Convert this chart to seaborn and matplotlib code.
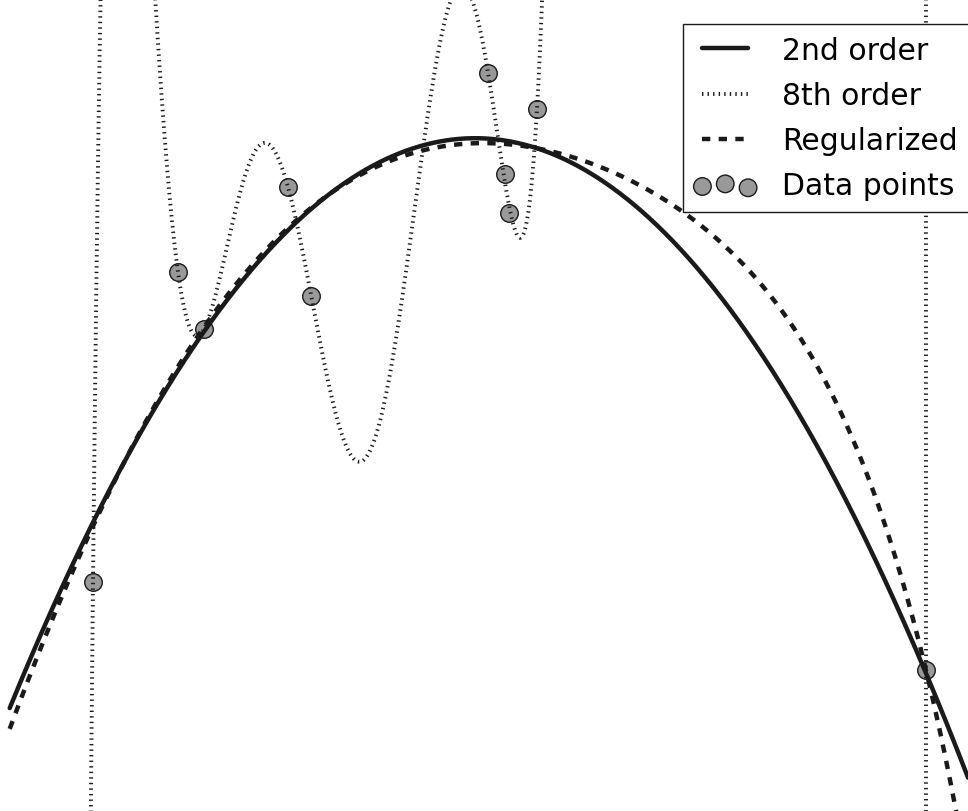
import numpy as np
import pandas as pd
import matplotlib
matplotlib.use("Agg")
import matplotlib.pyplot as plt
from matplotlib.collections import PathCollection
from matplotlib.legend_handler import HandlerLine2D, HandlerPathCollection
from matplotlib.lines import Line2D
import seaborn as sns

# observed samples
x_pts = [0.0, 0.102, 0.133, 0.234, 0.262, 0.474, 0.495, 0.499, 0.533, 1.0]
y_pts = [0.209, 0.763, 0.660, 0.914, 0.720, 1.118, 0.937, 0.868, 1.053, 0.051]

labels = ["2nd order", "8th order", "Regularized", "Data points"]
ridge_alpha = 3e-4

sns.set_theme(style="white")
plt.rcParams["lines.scale_dashes"] = False
plt.rcParams["text.color"] = "black"

x = np.array(x_pts)
y = np.array(y_pts)
xfit = np.linspace(-0.1, 1.1, 4000)

# least-squares polynomial fits
p2 = np.polyfit(x, y, 2)
p8 = np.polyfit(x, y, 8)


def ridge_poly(deg, alpha):
    """Degree-`deg` polynomial fit with an L2 penalty on non-constant terms."""
    X = np.vander(x, deg + 1)
    D = np.eye(deg + 1)
    D[-1, -1] = 0
    return np.linalg.solve(X.T @ X + alpha * D, X.T @ y)


preg = ridge_poly(8, ridge_alpha)

fits = pd.DataFrame({
    "x": xfit,
    "quad": np.polyval(p2, xfit),
    "oct": np.polyval(p8, xfit),
    "reg": np.polyval(preg, xfit),
})
pts = pd.DataFrame({"x": x, "y": y})

fig = plt.figure(figsize=(9.68, 8.12), dpi=100)
ax = fig.add_axes([0, 0, 1, 1])

sns.scatterplot(data=pts, x="x", y="y", ax=ax, s=160, color="0.6",
                edgecolor="k", linewidth=1, zorder=1, label=labels[3])
sns.lineplot(data=fits, x="x", y="quad", ax=ax, color="k", lw=3.2,
             sort=False, estimator=None, zorder=2, label=labels[0])
sns.lineplot(data=fits, x="x", y="oct", ax=ax, color="k", lw=2.8,
             linestyle=(0, (1, 3)), sort=False, estimator=None, zorder=3,
             label=labels[1])
sns.lineplot(data=fits, x="x", y="reg", ax=ax, color="k", lw=3.2,
             linestyle=(0, (6, 6)), sort=False, estimator=None, zorder=2,
             label=labels[2])

ax.set_xlim(-93 / 833, 875 / 833)
ax.set_ylim(-0.2, 1.25)
ax.set_axis_off()

handles, labs = ax.get_legend_handles_labels()
lookup = dict(zip(labs, handles))
leg = ax.legend([lookup[l] for l in labels], labels, loc="upper left",
                bbox_to_anchor=(683 / 968, 1 - 25 / 812),
                bbox_transform=fig.transFigure, borderaxespad=0,
                fancybox=False, framealpha=1, edgecolor="k", fontsize=21.5,
                scatterpoints=3, handlelength=1.78, handletextpad=1.13,
                labelspacing=0.54, borderpad=0.4,
                handler_map={
                    Line2D: HandlerLine2D(xpad=0.25),
                    PathCollection: HandlerPathCollection(xpad=0.25,
                                                          marker_pad=0),
                })
leg.get_frame().set_linewidth(1.0)
leg.set_zorder(5)

fig.savefig("out.png", dpi=100)
